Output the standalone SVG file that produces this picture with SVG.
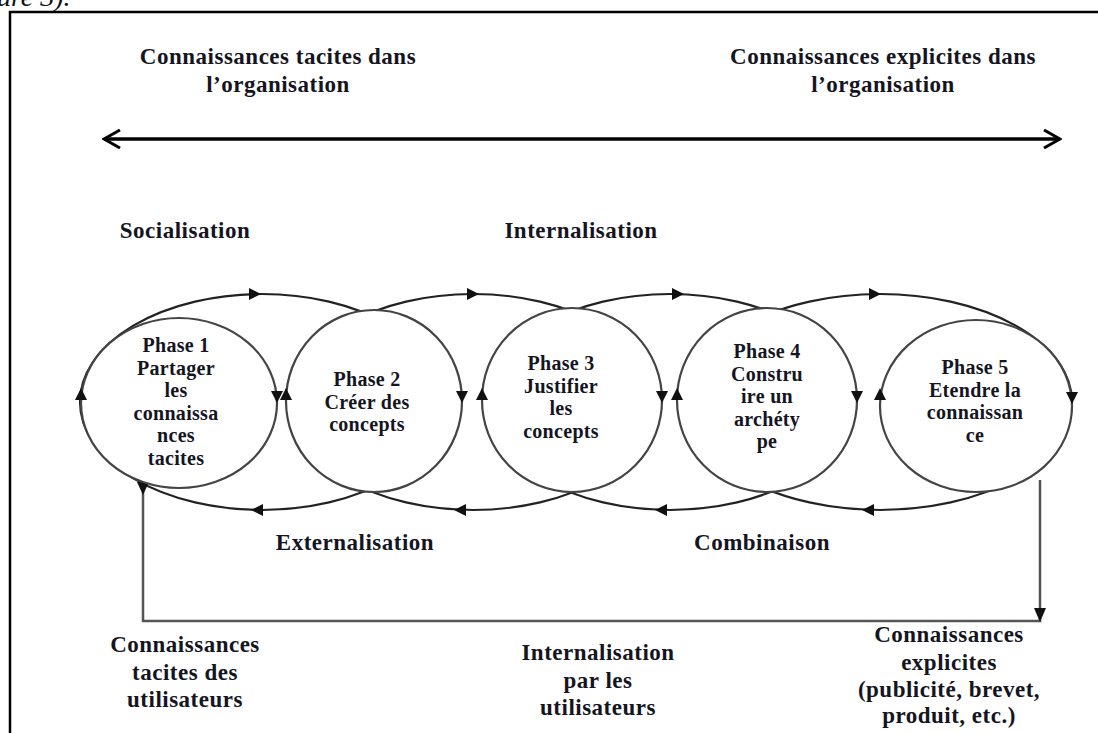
<svg xmlns="http://www.w3.org/2000/svg" width="1098" height="733" viewBox="0 0 1098 733">
<style>
.t{font-family:"Liberation Serif","Times New Roman",serif;font-weight:bold;fill:#15151f;text-anchor:middle}
.lb{font-size:23px;letter-spacing:0.5px}
.ph{font-size:20px;letter-spacing:0.3px}
.loop{fill:none;stroke:#222;stroke-width:2.2}
.circ{fill:#fff;stroke:#444;stroke-width:2.2}
.ah{fill:#111}
.fb{fill:none;stroke:#555;stroke-width:2.5}
</style>
<defs>
<marker id="chev" viewBox="0 0 20 20" refX="18" refY="10" markerWidth="20" markerHeight="20" markerUnits="userSpaceOnUse" orient="auto-start-reverse">
<path d="M2,1 L18,10 L2,19" fill="none" stroke="#000" stroke-width="3"/>
</marker>
<path id="ar" d="M-6,-6 L6,0 L-6,6 Z"/>
</defs>
<text x="-3" y="6" style="font-family:'Liberation Serif',serif;font-style:italic;font-size:28px;fill:#111">ure 3).</text>
<rect x="10" y="12" width="1100" height="740" fill="none" stroke="#000" stroke-width="2.5"/>
<g id="axis">
<line x1="104" y1="139" x2="1060" y2="139" stroke="#000" stroke-width="3.5" marker-start="url(#chev)" marker-end="url(#chev)"/>
<text class="t lb" x="278" y="64">Connaissances tacites dans</text>
<text class="t lb" x="278" y="92">l’organisation</text>
<text class="t lb" x="883" y="64">Connaissances explicites dans</text>
<text class="t lb" x="883" y="92">l’organisation</text>
</g>
<g id="connectors">
<ellipse class="loop" cx="262" cy="402" rx="182" ry="108"/>
<ellipse class="loop" cx="473" cy="402" rx="182" ry="108"/>
<ellipse class="loop" cx="670" cy="402" rx="182" ry="108"/>
<ellipse class="loop" cx="880" cy="402" rx="192" ry="108"/>
<path class="fb" d="M143,487 V621 H1040 V480"/>
<path d="M137,482 L149,482 L143,495 Z" class="ah"/>
<path d="M1034,608 L1046,608 L1040,622 Z" class="ah"/>
</g>
<g id="phase1">
<ellipse class="circ" cx="179" cy="403" rx="98" ry="85"/>
<text class="t ph" x="176" y="352">Phase 1</text>
<text class="t ph" x="176" y="374.5">Partager</text>
<text class="t ph" x="176" y="397">les</text>
<text class="t ph" x="176" y="419.5">connaissa</text>
<text class="t ph" x="176" y="442">nces</text>
<text class="t ph" x="176" y="464.5">tacites</text>
</g>
<g id="phase2">
<ellipse class="circ" cx="374" cy="401" rx="88" ry="91"/>
<text class="t ph" x="367" y="386">Phase 2</text>
<text class="t ph" x="367" y="408.5">Créer des</text>
<text class="t ph" x="367" y="431">concepts</text>
</g>
<g id="phase3">
<ellipse class="circ" cx="572" cy="400" rx="90" ry="92"/>
<text class="t ph" x="561" y="370">Phase 3</text>
<text class="t ph" x="561" y="392.5">Justifier</text>
<text class="t ph" x="561" y="415">les</text>
<text class="t ph" x="561" y="437.5">concepts</text>
</g>
<g id="phase4">
<ellipse class="circ" cx="767" cy="400" rx="90" ry="92"/>
<text class="t ph" x="767" y="358">Phase 4</text>
<text class="t ph" x="767" y="380.5">Constru</text>
<text class="t ph" x="767" y="403">ire un</text>
<text class="t ph" x="767" y="425.5">archéty</text>
<text class="t ph" x="767" y="448">pe</text>
</g>
<g id="phase5">
<ellipse class="circ" cx="976" cy="406" rx="96" ry="86"/>
<text class="t ph" x="975" y="374">Phase 5</text>
<text class="t ph" x="975" y="396.5">Etendre la</text>
<text class="t ph" x="975" y="419">connaissan</text>
<text class="t ph" x="975" y="441.5">ce</text>
</g>
<g id="arrowheads" class="ah">
<use href="#ar" transform="translate(255,294)"/>
<use href="#ar" transform="translate(473,294)"/>
<use href="#ar" transform="translate(678,294)"/>
<use href="#ar" transform="translate(875,294)"/>
<use href="#ar" transform="translate(257,510) rotate(180)"/>
<use href="#ar" transform="translate(460,510) rotate(180)"/>
<use href="#ar" transform="translate(661,510) rotate(180)"/>
<use href="#ar" transform="translate(868,510) rotate(180)"/>
<use href="#ar" transform="translate(81,394) rotate(-90)"/>
<use href="#ar" transform="translate(277,397) rotate(90)"/>
<use href="#ar" transform="translate(286,394) rotate(-90)"/>
<use href="#ar" transform="translate(462,397) rotate(90)"/>
<use href="#ar" transform="translate(482,394) rotate(-90)"/>
<use href="#ar" transform="translate(662,397) rotate(90)"/>
<use href="#ar" transform="translate(677,394) rotate(-90)"/>
<use href="#ar" transform="translate(857,397) rotate(90)"/>
<use href="#ar" transform="translate(880,394) rotate(-90)"/>
<use href="#ar" transform="translate(1072,398) rotate(90)"/>
</g>
<g id="labels">
<text class="t lb" x="185" y="238">Socialisation</text>
<text class="t lb" x="581" y="238">Internalisation</text>
<text class="t lb" x="355" y="550">Externalisation</text>
<text class="t lb" x="762" y="550">Combinaison</text>
<text class="t lb" x="185" y="652">Connaissances</text>
<text class="t lb" x="185" y="680">tacites des</text>
<text class="t lb" x="185" y="707">utilisateurs</text>
<text class="t lb" x="598" y="660">Internalisation</text>
<text class="t lb" x="598" y="688">par les</text>
<text class="t lb" x="598" y="715">utilisateurs</text>
<text class="t lb" x="949" y="642">Connaissances</text>
<text class="t lb" x="949" y="670">explicites</text>
<text class="t lb" x="949" y="697">(publicité, brevet,</text>
<text class="t lb" x="949" y="723">produit, etc.)</text>
</g>
</svg>
